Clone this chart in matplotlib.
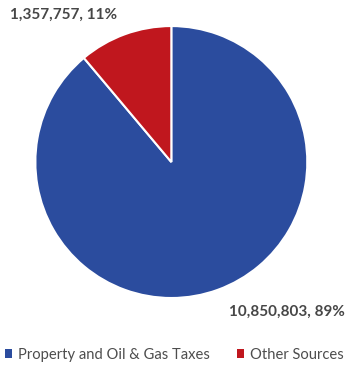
import matplotlib.pyplot as plt
from matplotlib.patches import Patch

# revenue sources
labels = ['Property and Oil & Gas Taxes', 'Other Sources']
values = [10850803, 1357757]
colors = ['#2B4C9E', '#C0171E']

plt.rcParams['font.family'] = ['Lato', 'DejaVu Sans']

fig = plt.figure(figsize=(3.5, 3.67), dpi=100)
ax = fig.add_axes([0.101, 0.188, 0.777, 0.741])

total = sum(values)
wedges, _ = ax.pie(values, colors=colors, startangle=90, counterclock=False,
                   wedgeprops=dict(edgecolor='white', linewidth=1.5))
ax.set_xlim(-1, 1)
ax.set_ylim(-1, 1)
ax.set_aspect('equal')

# data labels
ax.text(-0.79, 1.08, f'{values[1]:,}, {values[1] / total:.0%}', ha='center', va='center',
        fontsize=11, color='#474747', fontweight='bold')
ax.text(0.85, -1.10, f'{values[0]:,}, {values[0] / total:.0%}', ha='center', va='center',
        fontsize=11, color='#474747', fontweight='bold')

handles = [Patch(facecolor=c, edgecolor='none') for c in colors]
fig.legend(handles, labels, loc='center', bbox_to_anchor=(0.498, 0.033), ncol=2, frameon=False,
           fontsize=10.6, labelcolor='#4d4d4d', handlelength=0.5, handleheight=0.5,
           handletextpad=0.4, columnspacing=1.8)

fig.savefig('out.png', dpi=100, facecolor='white')
